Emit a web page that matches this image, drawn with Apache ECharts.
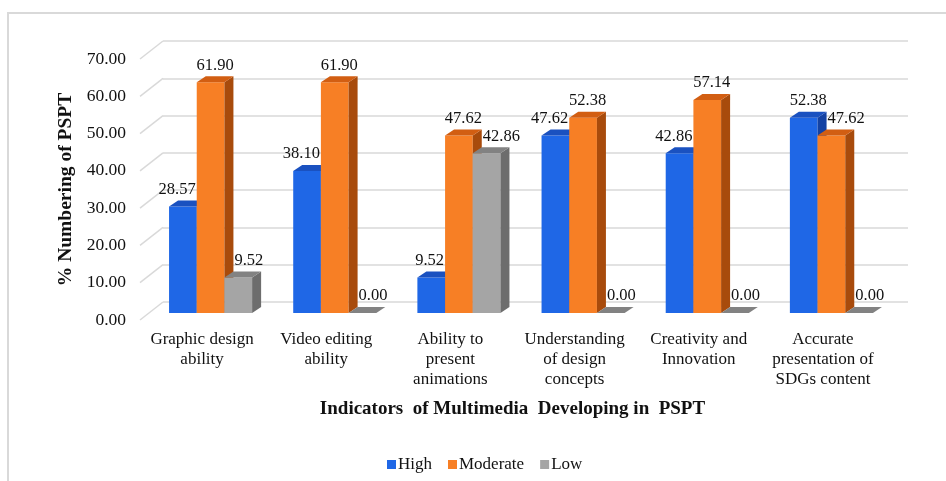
<!DOCTYPE html>
<html>
<head>
<meta charset="utf-8">
<script src="https://cdn.jsdelivr.net/npm/echarts@6/dist/echarts.min.js"></script>
<style>
  html, body { margin: 0; padding: 0; background: #fff; }
  #chart { width: 946px; height: 481px; }
</style>
</head>
<body>
<div id="chart"></div>
<script>
// ---- data ----
const categories = [
  'Graphic design\nability',
  'Video editing\nability',
  'Ability to\npresent\nanimations',
  'Understanding\nof design\nconcepts',
  'Creativity and\nInnovation',
  'Accurate\npresentation of\nSDGs content'
];
const seriesNames = ['High', 'Moderate', 'Low'];
const highValues = [28.57, 38.10, 9.52, 47.62, 42.86, 52.38];
const moderateValues = [61.90, 61.90, 47.62, 52.38, 57.14, 47.62];
const lowValues = [9.52, 0.00, 42.86, 0.00, 0.00, 0.00];
const yTicks = [0, 10, 20, 30, 40, 50, 60, 70];

const valueSets = [highValues, moderateValues, lowValues];

// ---- styling ----
const palette = [
  { front: '#1f67e6', top: '#1a51c0', side: '#1442a3' },
  { front: '#f77f25', top: '#d25e12', side: '#a84b0c' },
  { front: '#a5a5a5', top: '#828282', side: '#6d6d6d' }
];
const SERIF = '"Liberation Serif", "Times New Roman", serif';
const LABEL_FONT = '16.5px ' + SERIF;
const GRID_COLOR = '#d9d9d9';

// 3D projection offsets (pixels)
const DEPTH_DX = 23, DEPTH_DY = -18;   // front plane -> back wall
const MID_DX = 8.5, MID_DY = -7;       // front plane -> bar front faces
const BAR_DX = 9, BAR_DY = -6;         // bar depth
const BAR_FRAC = 0.223;                // bar width as share of a category band

const FRONT = { left: 140, right: 61, top: 59, bottom: 161 };

const measureCtx = document.createElement('canvas').getContext('2d');
measureCtx.font = LABEL_FONT;
function textWidth(t) { return measureCtx.measureText(t).width; }

// geometry of one bar in pixels
function barGeom(api, ci, si) {
  const v = valueSets[si][ci];
  const p0 = api.coord([ci, 0]);
  const p1 = api.coord([ci, v]);
  const band = api.size([1, 0])[0];
  const bw = band * BAR_FRAC;
  const cx = p0[0] + MID_DX + (si - 1) * bw;
  return {
    v: v,
    x0: cx - bw / 2,
    x1: cx + bw / 2,
    bw: bw,
    yb: p0[1] + MID_DY,
    yt: p1[1] + MID_DY
  };
}

function makeBarRenderer(si) {
  return function (params, api) {
    const ci = api.value(0);
    const g = barGeom(api, ci, si);
    const c = palette[si];
    const children = [];
    if (g.yb - g.yt > 0.5) {
      children.push({
        type: 'rect',
        shape: { x: g.x0, y: g.yt, width: g.bw, height: g.yb - g.yt },
        style: { fill: c.front }
      });
      children.push({
        type: 'polygon',
        shape: { points: [[g.x1, g.yb], [g.x1 + BAR_DX, g.yb + BAR_DY], [g.x1 + BAR_DX, g.yt + BAR_DY], [g.x1, g.yt]] },
        style: { fill: c.side }
      });
    }
    children.push({
      type: 'polygon',
      shape: { points: [[g.x0, g.yt], [g.x0 + BAR_DX, g.yt + BAR_DY], [g.x1 + BAR_DX, g.yt + BAR_DY], [g.x1, g.yt]] },
      style: { fill: c.top }
    });

    // value label above the bar, nudged sideways away from taller neighbours
    const text = g.v.toFixed(2);
    const w = textWidth(text);
    const ly = g.yt - 17;
    let lx = (g.x0 + g.x1) / 2 + BAR_DX / 2;
    if (si < valueSets.length - 1) {
      const n = barGeom(api, ci, si + 1);
      if (n.v > g.v && n.yt < ly + 8 && lx + w / 2 > n.x0) lx = n.x0 - 1 - w / 2;
    }
    if (si > 0) {
      const n = barGeom(api, ci, si - 1);
      const edge = n.x1 + BAR_DX;
      if (n.v > g.v && n.yt + BAR_DY < ly + 8 && lx - w / 2 < edge) lx = edge + 1 + w / 2;
    }
    children.push({
      type: 'text',
      z2: 100,
      x: lx,
      y: ly,
      style: { text: text, font: LABEL_FONT, fill: '#111', align: 'center', verticalAlign: 'middle' }
    });
    return { type: 'group', children: children };
  };
}

// slanted lines joining the value labels to the back-wall gridlines
function renderWallEdges(params, api) {
  const t = api.value(1);
  const p = api.coord([0, t]);
  const x = params.coordSys.x;
  return {
    type: 'line',
    shape: { x1: x, y1: p[1], x2: x + DEPTH_DX, y2: p[1] + DEPTH_DY },
    style: { stroke: GRID_COLOR, lineWidth: 1.5 }
  };
}

const chart = echarts.init(document.getElementById('chart'), null, { renderer: 'canvas' });

const barSeries = seriesNames.map(function (name, si) {
  return {
    name: name,
    type: 'custom',
    xAxisIndex: 0,
    yAxisIndex: 0,
    z: 3,
    itemStyle: { color: palette[si].front },
    encode: { x: 0, y: 1 },
    renderItem: makeBarRenderer(si),
    data: valueSets[si].map(function (v, ci) { return [ci, v]; })
  };
});

chart.setOption({
  backgroundColor: '#fff',
  animation: false,
  graphic: [{
    type: 'rect',
    shape: { x: 8, y: 13, width: 960, height: 520 },
    style: { fill: 'none', stroke: '#d9d9d9', lineWidth: 2 },
    silent: true
  }],
  grid: [
    { left: FRONT.left, right: FRONT.right, top: FRONT.top, bottom: FRONT.bottom },
    {
      left: FRONT.left + DEPTH_DX, right: FRONT.right - DEPTH_DX,
      top: FRONT.top + DEPTH_DY, bottom: FRONT.bottom - DEPTH_DY
    }
  ],
  xAxis: [
    {
      type: 'category',
      gridIndex: 0,
      data: categories,
      axisLine: { show: false },
      axisTick: { show: false },
      axisLabel: {
        interval: 0, margin: 10, fontFamily: SERIF, fontSize: 17,
        lineHeight: 20, color: '#111', align: 'center'
      },
      name: 'Indicators  of Multimedia  Developing in  PSPT',
      nameLocation: 'middle',
      nameGap: 80,
      nameTextStyle: { fontFamily: SERIF, fontSize: 19, fontWeight: 'bold', color: '#111' }
    },
    { type: 'value', gridIndex: 1, show: false, min: 0, max: 1 }
  ],
  yAxis: [
    {
      type: 'value',
      gridIndex: 0,
      min: 0, max: 70, interval: 10,
      axisLine: { show: false },
      axisTick: { show: false },
      splitLine: { show: false },
      axisLabel: {
        margin: 14, fontFamily: SERIF, fontSize: 17.5, color: '#111',
        padding: [4, 0, 0, 0],
        formatter: function (v) { return v.toFixed(2); }
      },
      name: '% Numbering of PSPT',
      nameLocation: 'middle',
      nameRotate: 90,
      nameGap: 56,
      nameTextStyle: { fontFamily: SERIF, fontSize: 19.5, fontWeight: 'bold', color: '#111' }
    },
    {
      type: 'value',
      gridIndex: 1,
      min: 0, max: 70, interval: 10,
      axisLine: { show: false },
      axisTick: { show: false },
      axisLabel: { show: false },
      splitLine: { show: true, lineStyle: { color: GRID_COLOR, width: 1.5 } }
    }
  ],
  legend: {
    data: seriesNames,
    left: 382,
    top: 451,
    icon: 'rect',
    itemWidth: 9,
    itemHeight: 9,
    itemGap: 16,
    textStyle: { fontFamily: SERIF, fontSize: 17, color: '#111', padding: [0, 0, 0, -3] }
  },
  series: [
    {
      type: 'custom',
      xAxisIndex: 0,
      yAxisIndex: 0,
      z: 1,
      silent: true,
      renderItem: renderWallEdges,
      encode: { x: 0, y: 1 },
      data: yTicks.map(function (t) { return [0, t]; })
    }
  ].concat(barSeries)
});
</script>
</body>
</html>
